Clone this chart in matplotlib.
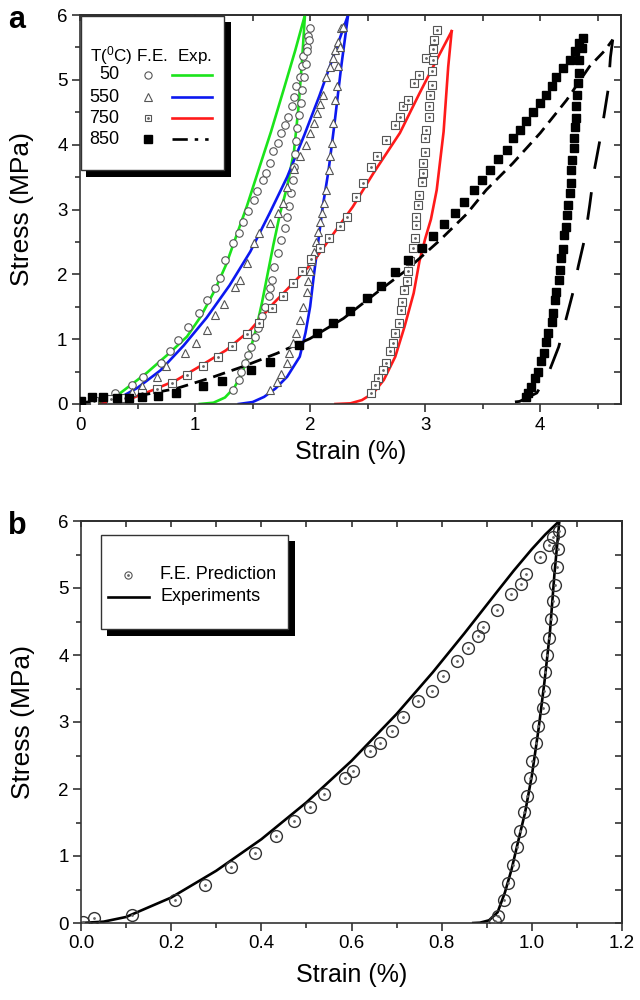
import matplotlib
matplotlib.use('Agg')
import matplotlib.pyplot as plt
from matplotlib.ticker import MultipleLocator, FormatStrFormatter, NullFormatter
from matplotlib.patches import Rectangle

plt.rcParams['font.family'] = ['Liberation Sans', 'DejaVu Sans']
plt.rcParams['mathtext.fontset'] = 'custom'
plt.rcParams['mathtext.rm'] = 'Liberation Sans'
plt.rcParams['lines.scale_dashes'] = False

# ---------------- Panel a data ----------------
temps = ['50', '550', '750', '850']
exp_colors = ['#1be41b', '#0c18f0', '#ff1a1a', 'black']

# 50 C experiment (green)
exp50_load_x = [0.17, 0.30, 0.41, 0.58, 0.78, 0.93, 1.05, 1.17, 1.27, 1.36, 1.45, 1.55, 1.66, 1.77, 1.87, 1.955]
exp50_load_y = [0.02, 0.10, 0.25, 0.48, 0.79, 1.04, 1.35, 1.75, 2.15, 2.60, 3.05, 3.60, 4.20, 4.85, 5.45, 6.00]
exp50_unl_x = [1.955, 1.93, 1.90, 1.86, 1.80, 1.74, 1.68, 1.63, 1.58, 1.53, 1.47, 1.41, 1.34, 1.26, 1.16, 1.04]
exp50_unl_y = [6.00, 5.30, 4.60, 3.90, 3.35, 2.95, 2.45, 2.00, 1.55, 1.15, 0.78, 0.48, 0.25, 0.10, 0.02, 0.00]
# 50 C F.E. (circles)
fe50_x = [0.30, 0.45, 0.55, 0.70, 0.78, 0.85, 0.94, 1.03, 1.10, 1.17, 1.22, 1.26, 1.33, 1.38, 1.42, 1.46,
          1.51, 1.54, 1.59, 1.62, 1.65, 1.68, 1.72, 1.75, 1.78, 1.81, 1.84, 1.86, 1.88, 1.91, 1.93, 1.94,
          1.97, 1.98, 2.00,
          1.99, 1.97, 1.96, 1.95, 1.93, 1.92, 1.90, 1.89, 1.88, 1.87, 1.86, 1.85, 1.83, 1.82, 1.80, 1.78,
          1.75, 1.72, 1.69, 1.67, 1.65, 1.64, 1.61, 1.58, 1.55, 1.52, 1.49, 1.46, 1.43, 1.40, 1.38, 1.33]
fe50_y = [0.17, 0.29, 0.42, 0.63, 0.81, 0.99, 1.18, 1.40, 1.60, 1.79, 1.94, 2.22, 2.49, 2.64, 2.81, 2.98,
          3.15, 3.28, 3.46, 3.56, 3.71, 3.90, 4.02, 4.18, 4.31, 4.43, 4.59, 4.74, 4.90, 5.05, 5.21, 5.36,
          5.51, 5.67, 5.80,
          5.62, 5.45, 5.25, 5.05, 4.85, 4.65, 4.45, 4.25, 4.05, 3.85, 3.65, 3.45, 3.25, 3.05, 2.88, 2.72,
          2.53, 2.33, 2.12, 1.91, 1.79, 1.66, 1.50, 1.35, 1.17, 1.04, 0.88, 0.76, 0.63, 0.50, 0.37, 0.22]

# 550 C experiment (blue)
exp550_load_x = [0.20, 0.35, 0.50, 0.70, 0.90, 1.10, 1.30, 1.48, 1.65, 1.80, 1.95, 2.08, 2.20, 2.33]
exp550_load_y = [0.03, 0.10, 0.25, 0.52, 0.90, 1.33, 1.83, 2.35, 2.95, 3.50, 4.15, 4.75, 5.35, 6.00]
exp550_unl_x = [2.33, 2.27, 2.21, 2.16, 2.11, 2.07, 2.03, 2.00, 1.96, 1.91, 1.80, 1.70, 1.60, 1.50, 1.38]
exp550_unl_y = [6.00, 5.20, 4.30, 3.60, 3.05, 2.50, 1.95, 1.50, 1.10, 0.73, 0.42, 0.24, 0.11, 0.03, 0.00]
# 550 C F.E. (triangles)
fe550_x = [0.35, 0.45, 0.54, 0.67, 0.75, 0.91, 1.01, 1.10, 1.17, 1.25, 1.35, 1.39, 1.45, 1.51, 1.56, 1.65,
           1.72, 1.76, 1.80, 1.86, 1.91, 1.96, 2.00, 2.03, 2.06, 2.09, 2.11, 2.14, 2.17, 2.20, 2.22, 2.24, 2.27,
           2.29, 2.26, 2.24, 2.23, 2.22, 2.20, 2.19, 2.17, 2.16, 2.14, 2.12, 2.10, 2.09, 2.07, 2.05, 2.03,
           2.01, 2.00, 1.98, 1.97, 1.94, 1.91, 1.88, 1.85, 1.82, 1.80, 1.75, 1.71, 1.65]
fe550_y = [0.10, 0.18, 0.27, 0.42, 0.58, 0.78, 0.94, 1.14, 1.37, 1.55, 1.81, 1.91, 2.17, 2.48, 2.63, 2.79,
           2.94, 3.10, 3.35, 3.62, 3.82, 4.00, 4.18, 4.33, 4.49, 4.63, 4.77, 5.05, 5.20, 5.33, 5.46, 5.59, 5.80,
           5.82, 5.51, 5.21, 4.90, 4.69, 4.33, 4.02, 3.82, 3.61, 3.30, 3.10, 2.94, 2.80, 2.66, 2.50, 2.35,
           2.20, 2.05, 1.89, 1.73, 1.50, 1.30, 1.09, 0.94, 0.78, 0.63, 0.47, 0.34, 0.22]

# 750 C experiment (red)
exp750_load_x = [0.17, 0.41, 0.64, 0.84, 1.04, 1.27, 1.48, 1.68, 1.85, 2.03, 2.20, 2.37, 2.55, 2.78, 2.95, 3.10, 3.23]
exp750_load_y = [0.00, 0.06, 0.22, 0.37, 0.58, 0.83, 1.14, 1.55, 1.86, 2.20, 2.62, 3.04, 3.56, 4.18, 4.79, 5.31, 5.75]
exp750_unl_x = [3.23, 3.20, 3.16, 3.10, 3.05, 3.00, 2.95, 2.90, 2.82, 2.74, 2.64, 2.55, 2.45, 2.35, 2.22]
exp750_unl_y = [5.75, 5.20, 4.20, 3.30, 2.85, 2.55, 2.20, 1.71, 1.19, 0.73, 0.37, 0.17, 0.06, 0.01, 0.00]
# 750 C F.E. (open squares)
fe750_x = [0.12, 0.27, 0.39, 0.54, 0.67, 0.80, 0.93, 1.07, 1.20, 1.32, 1.45, 1.56, 1.67, 1.76, 1.85, 1.93,
           2.01, 2.09, 2.16, 2.26, 2.32, 2.40, 2.46, 2.53, 2.58, 2.66, 2.74, 2.78, 2.81, 2.85, 2.90, 2.95,
           3.01, 3.07, 3.10,
           3.08, 3.07, 3.06, 3.06, 3.04, 3.03, 3.03, 3.01, 3.00, 3.00, 2.98, 2.98, 2.97, 2.95, 2.94, 2.92,
           2.92, 2.91, 2.89, 2.87, 2.85, 2.84, 2.82, 2.80, 2.79, 2.77, 2.74, 2.72, 2.69, 2.66, 2.63, 2.59,
           2.56, 2.53]
fe750_y = [0.05, 0.07, 0.09, 0.17, 0.23, 0.32, 0.45, 0.58, 0.73, 0.90, 1.08, 1.25, 1.48, 1.67, 1.86, 2.05,
           2.23, 2.40, 2.56, 2.74, 2.89, 3.20, 3.41, 3.66, 3.82, 4.07, 4.31, 4.43, 4.59, 4.69, 4.95, 5.08,
           5.33, 5.47, 5.77,
           5.62, 5.30, 5.13, 4.92, 4.77, 4.59, 4.43, 4.23, 4.10, 3.89, 3.71, 3.56, 3.43, 3.23, 3.07, 2.89,
           2.76, 2.56, 2.40, 2.20, 2.05, 1.89, 1.76, 1.58, 1.45, 1.25, 1.09, 0.94, 0.81, 0.63, 0.52, 0.40,
           0.29, 0.17]

# 850 C experiment (black dashed)
exp850_load_x = [0.00, 0.26, 0.55, 0.84, 1.13, 1.42, 1.71, 2.00, 2.29, 2.58, 2.84, 3.13, 3.36, 3.53, 3.76, 4.00, 4.23, 4.43, 4.56, 4.63]
exp850_load_y = [0.02, 0.06, 0.14, 0.24, 0.40, 0.58, 0.78, 1.01, 1.32, 1.72, 2.07, 2.53, 2.93, 3.30, 3.71, 4.18, 4.69, 5.21, 5.45, 5.62]
exp850_unl_x = [4.63, 4.61, 4.59, 4.53, 4.47, 4.43, 4.39, 4.33, 4.29, 4.23, 4.16, 4.07, 3.97, 3.82, 3.62]
exp850_unl_y = [5.62, 5.35, 4.85, 4.18, 3.61, 3.07, 2.58, 2.12, 1.76, 1.35, 0.88, 0.47, 0.17, 0.04, 0.00]
# 850 C F.E. (filled squares)
fe850_x = [0.01, 0.10, 0.20, 0.32, 0.43, 0.54, 0.68, 0.83, 1.07, 1.23, 1.49, 1.65, 1.90, 2.06, 2.20, 2.35,
           2.49, 2.62, 2.74, 2.85, 2.97, 3.07, 3.16, 3.26, 3.34, 3.42, 3.49, 3.56, 3.63, 3.71, 3.76, 3.82,
           3.88, 3.94, 4.00, 4.05, 4.10, 4.14, 4.20, 4.26, 4.30, 4.34, 4.37,
           4.36, 4.34, 4.34, 4.33, 4.32, 4.31, 4.31, 4.30, 4.29, 4.29, 4.28, 4.27, 4.27, 4.26, 4.24, 4.23,
           4.22, 4.21, 4.20, 4.18, 4.17, 4.16, 4.14, 4.13, 4.11, 4.10, 4.07, 4.05, 4.03, 4.01, 3.98, 3.95,
           3.92, 3.89, 3.88]
fe850_y = [0.04, 0.11, 0.11, 0.10, 0.09, 0.11, 0.12, 0.17, 0.27, 0.36, 0.52, 0.65, 0.91, 1.09, 1.25, 1.44,
           1.63, 1.82, 2.03, 2.22, 2.40, 2.59, 2.78, 2.95, 3.12, 3.30, 3.46, 3.61, 3.78, 3.92, 4.10, 4.23,
           4.36, 4.50, 4.64, 4.77, 4.90, 5.04, 5.18, 5.31, 5.44, 5.57, 5.64,
           5.49, 5.31, 5.10, 4.95, 4.77, 4.59, 4.41, 4.28, 4.10, 3.95, 3.77, 3.61, 3.41, 3.25, 3.07, 2.92,
           2.73, 2.61, 2.39, 2.25, 2.06, 1.92, 1.73, 1.60, 1.40, 1.27, 1.09, 0.96, 0.78, 0.67, 0.50, 0.40,
           0.26, 0.17, 0.11]

# ---------------- Panel b data ----------------
expb_x = [0.00, 0.05, 0.10, 0.20, 0.30, 0.40, 0.50, 0.60, 0.70, 0.78, 0.85, 0.92, 0.96, 1.00, 1.03, 1.061,
          1.050, 1.040, 1.028, 1.015, 1.000, 0.985, 0.969, 0.955, 0.940, 0.924, 0.905, 0.885, 0.870]
expb_y = [0.00, 0.02, 0.09, 0.38, 0.78, 1.25, 1.80, 2.42, 3.12, 3.74, 4.32, 4.92, 5.26, 5.58, 5.80, 6.00,
          5.20, 4.33, 3.60, 2.90, 2.20, 1.65, 1.20, 0.80, 0.45, 0.16, 0.04, 0.005, 0.00]
feb_x = [0.005, 0.029, 0.113, 0.208, 0.276, 0.333, 0.387, 0.433, 0.473, 0.509, 0.539, 0.586, 0.603, 0.641,
         0.663, 0.690, 0.715, 0.748, 0.778, 0.802, 0.833, 0.859, 0.881, 0.892, 0.922, 0.954, 0.975, 0.986,
         1.017, 1.037, 1.046,
         1.061, 1.057, 1.055, 1.051, 1.046, 1.042, 1.038, 1.034, 1.029, 1.026, 1.024, 1.014, 1.010, 1.001,
         0.996, 0.989, 0.983, 0.974, 0.967, 0.958, 0.947, 0.938, 0.924, 0.919]
feb_y = [0.02, 0.07, 0.12, 0.35, 0.57, 0.84, 1.05, 1.30, 1.52, 1.73, 1.92, 2.16, 2.27, 2.56,
         2.69, 2.87, 3.07, 3.31, 3.47, 3.68, 3.91, 4.11, 4.29, 4.42, 4.67, 4.91, 5.06, 5.21,
         5.46, 5.64, 5.76,
         5.85, 5.58, 5.32, 5.04, 4.80, 4.53, 4.26, 4.00, 3.74, 3.47, 3.21, 2.94, 2.69, 2.42,
         2.16, 1.90, 1.65, 1.38, 1.13, 0.86, 0.60, 0.35, 0.10, 0.03]

legend_b_labels = ['F.E. Prediction', 'Experiments']

# ---------------- Figure ----------------
fig = plt.figure(figsize=(6.4, 10), dpi=100)
axa = fig.add_axes([0.125, 0.596, 0.845, 0.389])
axb = fig.add_axes([0.1266, 0.077, 0.8453, 0.402])

TICK_FS = 13.5
XLABEL_FS = 18
YLABEL_FS = 19


def style(ax, xlim, ylim, xmaj, xmin, ymaj, ymin, xfmt=None):
    ax.set_xlim(*xlim)
    ax.set_ylim(*ylim)
    ax.xaxis.set_major_locator(MultipleLocator(xmaj))
    ax.xaxis.set_minor_locator(MultipleLocator(xmin))
    ax.yaxis.set_major_locator(MultipleLocator(ymaj))
    ax.yaxis.set_minor_locator(MultipleLocator(ymin))
    if xfmt:
        ax.xaxis.set_major_formatter(FormatStrFormatter(xfmt))
    ax.tick_params(which='both', direction='out', top=False, right=False,
                   labelsize=TICK_FS, width=1.1, color='#222222', pad=3)
    ax.tick_params(which='major', length=6)
    ax.tick_params(which='minor', length=3.5)
    for s in ax.spines.values():
        s.set_linewidth(1.2)
        s.set_color('#333333')
    sx = ax.secondary_xaxis('top')
    sx.xaxis.set_major_locator(MultipleLocator(xmin))
    sx.xaxis.set_major_formatter(NullFormatter())
    sx.tick_params(direction='in', length=4, width=1.1, color='#222222')
    sx.spines['top'].set_linewidth(1.2)
    sy = ax.secondary_yaxis('right')
    sy.yaxis.set_major_locator(MultipleLocator(ymin))
    sy.yaxis.set_major_formatter(NullFormatter())
    sy.tick_params(direction='in', length=5, width=1.1, color='#222222')
    sy.spines['right'].set_linewidth(1.2)
    ax.set_xlabel('Strain (%)', fontsize=XLABEL_FS)
    ax.set_ylabel('Stress (MPa)', fontsize=YLABEL_FS)


style(axa, (0, 4.7), (0, 6), 1, 0.5, 1, 0.5)
style(axb, (0, 1.2), (0, 6), 0.2, 0.1, 1, 0.5, '%.1f')
axa.xaxis.set_label_coords(0.5, -0.092)
axa.yaxis.set_label_coords(-0.085, 0.5)
axb.xaxis.set_label_coords(0.5, -0.1)
axb.yaxis.set_label_coords(-0.085, 0.5)

OPEN = dict(linestyle='none', markerfacecolor='white', markeredgecolor='#555555', markeredgewidth=0.8)
DOT = dict(linestyle='none', marker='o', markersize=1.0, color='#666666')
LOAD_DASH = (0, (9, 5))
UNL_DASH = (0, (20, 17))

# Panel a lines
axa.plot(exp50_load_x, exp50_load_y, color=exp_colors[0], lw=1.9, zorder=2)
axa.plot(exp50_unl_x, exp50_unl_y, color=exp_colors[0], lw=1.9, zorder=2)
axa.plot(exp550_load_x, exp550_load_y, color=exp_colors[1], lw=1.9, zorder=2)
axa.plot(exp550_unl_x, exp550_unl_y, color=exp_colors[1], lw=1.9, zorder=2)
axa.plot(exp750_load_x, exp750_load_y, color=exp_colors[2], lw=1.9, zorder=2)
axa.plot(exp750_unl_x, exp750_unl_y, color=exp_colors[2], lw=1.9, zorder=2)
axa.plot(exp850_load_x, exp850_load_y, color='black', lw=2.0, linestyle=LOAD_DASH, zorder=2)
axa.plot(exp850_unl_x, exp850_unl_y, color='black', lw=2.0, linestyle=UNL_DASH, zorder=2)

# Panel a markers
axa.plot(fe50_x, fe50_y, marker='o', markersize=5.4, zorder=3, **OPEN)
axa.plot(fe550_x, fe550_y, marker='^', markersize=6.2, zorder=3, **OPEN)
axa.plot(fe750_x, fe750_y, marker='s', markersize=5.4, zorder=3, **OPEN)
axa.plot(fe750_x, fe750_y, zorder=3, **DOT)
axa.plot(fe850_x, fe850_y, marker='s', markersize=6, linestyle='none', color='black', zorder=3)

# Panel a legend (drawn box with shadow)
T = axa.transAxes
axa.add_patch(Rectangle((0.011, 0.584), 0.268, 0.398, transform=T, facecolor='black', edgecolor='none', zorder=10))
axa.add_patch(Rectangle((0.002, 0.602), 0.264, 0.396, transform=T, facecolor='white', edgecolor='#333333', lw=1.0, zorder=11))
axa.text(0.018, 0.897, r'T($\mathregular{^0}$C) F.E.  Exp.', transform=T, fontsize=12.3, va='center', ha='left', zorder=12)
row_y = [0.846, 0.789, 0.735, 0.681]
mk = [dict(marker='o', markersize=5.2, **OPEN), dict(marker='^', markersize=6, **OPEN),
      dict(marker='s', markersize=5, **OPEN),
      dict(marker='s', markersize=5.8, linestyle='none', color='black')]
ls = ['-', '-', '-', (0, (11, 5, 2.5, 5, 2.5, 5))]
for t, c, y, m, l in zip(temps, exp_colors, row_y, mk, ls):
    axa.text(0.072, y, t, transform=T, fontsize=13, ha='right', va='center', zorder=12)
    axa.plot([0.126], [y], transform=T, zorder=12, clip_on=False, **m)
    axa.plot([0.170, 0.244], [y, y], transform=T, color=c, lw=1.9, linestyle=l, zorder=12)
axa.plot([0.126], [row_y[2]], transform=T, zorder=12, **DOT)

# Panel b
axb.plot(expb_x, expb_y, color='black', lw=1.9, zorder=2)
axb.plot(feb_x, feb_y, marker='o', markersize=8.5, linestyle='none', markerfacecolor='none',
         markeredgecolor='#333333', markeredgewidth=1.0, zorder=3)
axb.plot(feb_x, feb_y, zorder=3, **DOT)

Tb = axb.transAxes
axb.add_patch(Rectangle((0.048, 0.714), 0.348, 0.236, transform=Tb, facecolor='black', edgecolor='none', zorder=10))
axb.add_patch(Rectangle((0.037, 0.731), 0.346, 0.234, transform=Tb, facecolor='white', edgecolor='#333333', lw=1.0, zorder=11))
axb.plot([0.087], [0.866], transform=Tb, marker='o', markersize=5.2, zorder=12, **OPEN)
axb.plot([0.087], [0.866], transform=Tb, zorder=12, **DOT)
axb.plot([0.050, 0.126], [0.811, 0.811], transform=Tb, color='black', lw=1.9, zorder=12)
axb.text(0.146, 0.866, legend_b_labels[0], transform=Tb, fontsize=13, va='center', ha='left', zorder=12)
axb.text(0.146, 0.811, legend_b_labels[1], transform=Tb, fontsize=13, va='center', ha='left', zorder=12)

# Panel letters
fig.text(0.012, 0.972, 'a', fontsize=22, fontweight='bold', va='baseline', ha='left')
fig.text(0.012, 0.466, 'b', fontsize=22, fontweight='bold', va='baseline', ha='left')

fig.savefig('out.png', dpi=100)
